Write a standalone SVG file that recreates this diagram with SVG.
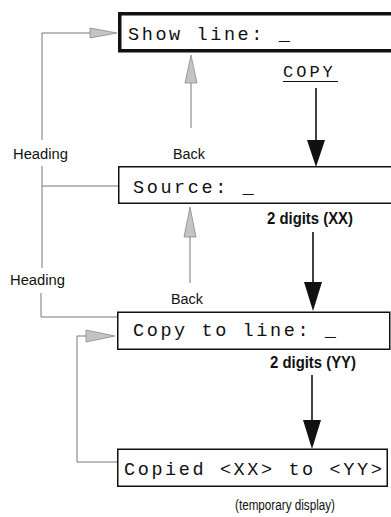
<svg xmlns="http://www.w3.org/2000/svg" width="391" height="517" viewBox="0 0 391 517">
  <style>
    .box { fill: #fff; stroke: #111; }
    .lcd { font-family: "Liberation Mono", "DejaVu Sans Mono", monospace; font-size: 18.5px; letter-spacing: 2.6px; fill: #111; }
    .lbl { font-family: "Liberation Sans", Arial, sans-serif; font-size: 15.5px; fill: #111; }
    .bold { font-family: "Liberation Sans", Arial, sans-serif; font-size: 16px; font-weight: bold; fill: #111; }
    .gline { fill: none; stroke: #777; stroke-width: 1; }
    .ghead { fill: #c4c4c4; stroke: #8a8a8a; stroke-width: 0.8; }
    .bline { fill: none; stroke: #111; stroke-width: 1.6; }
    .bhead { fill: #111; stroke: none; }
  </style>
  <rect width="391" height="517" fill="#fff"/>

  <g id="connectors">
    <!-- Heading loop from Source to Show line -->
    <path class="gline" d="M118,186 H42 V166 M42,140 V33 H91"/>
    <polygon class="ghead" points="90,28 117,33 90,38"/>
    <!-- Heading loop from Source down to Copy to line -->
    <path class="gline" d="M42,186 V268 M41,293 V317 H117"/>
    <!-- Back from Source to Show line -->
    <path class="gline" d="M191,128 V82"/>
    <polygon class="ghead" points="185,83 191,55 197,83"/>
    <!-- Back from Copy to line to Source -->
    <path class="gline" d="M190,283 V236"/>
    <polygon class="ghead" points="184,237 190,207 196,237"/>
    <!-- Loop from Copied back to Copy to line -->
    <path class="gline" d="M117,462 H77 V336 H88"/>
    <polygon class="ghead" points="86,330 115,336 86,342"/>

    <!-- COPY arrow -->
    <path class="bline" d="M316,88 V142"/>
    <polygon class="bhead" points="307,140 325,140 316,167"/>
    <!-- 2 digits (XX) arrow -->
    <path class="bline" d="M313,232 V284"/>
    <polygon class="bhead" points="304,282 322,282 313,311"/>
    <!-- 2 digits (YY) arrow -->
    <path class="bline" d="M312,375 V422"/>
    <polygon class="bhead" points="303,420 321,420 312,449"/>

    <!-- labels -->
    <text class="lbl" x="13" y="159" textLength="55" lengthAdjust="spacingAndGlyphs">Heading</text>
    <text class="lbl" x="10" y="285" textLength="55" lengthAdjust="spacingAndGlyphs">Heading</text>
    <text class="lbl" x="173" y="159" textLength="32" lengthAdjust="spacingAndGlyphs">Back</text>
    <text class="lbl" x="171" y="304" textLength="32" lengthAdjust="spacingAndGlyphs">Back</text>
    <text class="lcd" x="283" y="77" style="font-size:17px;letter-spacing:3px">COPY</text>
    <line x1="283" y1="81.5" x2="338" y2="81.5" stroke="#111" stroke-width="1.2"/>
    <text class="bold" x="267" y="224" textLength="86" lengthAdjust="spacingAndGlyphs">2 digits (XX)</text>
    <text class="bold" x="270" y="368" textLength="86" lengthAdjust="spacingAndGlyphs">2 digits (YY)</text>
    <text class="lbl" x="235" y="510" textLength="100" lengthAdjust="spacingAndGlyphs">(temporary display)</text>
  </g>

  <g id="node-show-line">
    <rect class="box" x="119.75" y="13.75" width="290" height="37" stroke-width="3.5"/>
    <text class="lcd" x="128" y="40">Show line: _</text>
  </g>

  <g id="node-source">
    <rect class="box" x="118.75" y="166.75" width="290" height="36.5" stroke-width="1.5"/>
    <text class="lcd" x="133" y="193">Source: _</text>
  </g>

  <g id="node-copy-to-line">
    <rect class="box" x="117.75" y="312.25" width="272" height="37" stroke-width="1.5"/>
    <text class="lcd" x="133" y="336">Copy to line: _</text>
  </g>

  <g id="node-copied">
    <rect class="box" x="117.75" y="449.25" width="269.5" height="37" stroke-width="1.5"/>
    <text class="lcd" x="124" y="475">Copied &lt;XX&gt; to &lt;YY&gt;</text>
  </g>
</svg>
